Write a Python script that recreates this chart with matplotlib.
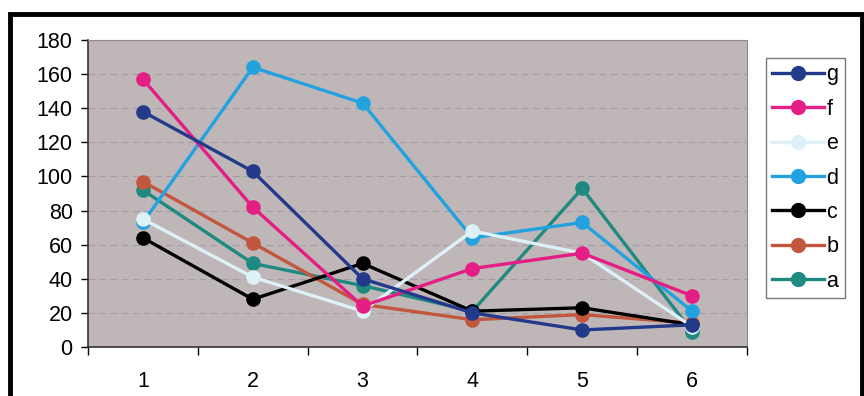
import matplotlib.pyplot as plt
from matplotlib.patches import Rectangle

plt.rcParams['font.family'] = ['Liberation Sans', 'DejaVu Sans']

cats = [1, 2, 3, 4, 5, 6]
names = ['a', 'b', 'c', 'd', 'e', 'f', 'g']
a = [92, 49, 36, 21, 93, 9]
b = [97, 61, 25, 16, 19, 14]
c = [64, 28, 49, 21, 23, 13]
d = [73, 164, 143, 64, 73, 21]
e = [75, 41, 21, 68, 55, 12]
f = [157, 82, 24, 46, 55, 30]
g = [138, 103, 40, 20, 10, 13]
series = [a, b, c, d, e, f, g]
colors = ['#1E8A80', '#C2573E', '#000000', '#23A2E0', '#DDF1F6', '#E41E84', '#233A8A']

fig = plt.figure(figsize=(8.64, 3.96), dpi=100)
ax = fig.add_axes([88/864, 1-347/396, (747-88)/864, (347-40)/396])
ax.set_facecolor('#BFB6B8')

for vals, col, nm in zip(series, colors, names):
    ax.plot(cats, vals, color=col, lw=2.4, marker='o', ms=9.5, label=nm, zorder=3)

ax.set_xlim(0.5, 6.5)
ax.set_ylim(0, 180)
ax.set_yticks(range(0, 181, 20))
ax.set_xticks(cats)
ax.set_xticks([0.5 + i for i in range(7)], minor=True)
ax.tick_params(axis='x', which='major', length=0, pad=17, labelsize=15.5)
ax.tick_params(axis='x', which='minor', length=6, width=1, direction='out')
ax.tick_params(axis='y', length=5, width=1, direction='out', pad=6, labelsize=15.5)
ax.grid(axis='y', color='#A29EA6', lw=0.8, ls=(0, (6, 4)), zorder=1)
for s in ['top', 'right']:
    ax.spines[s].set_color('#8C8C8C')
for s in ['left', 'bottom']:
    ax.spines[s].set_color('#333333')
    ax.spines[s].set_linewidth(1.2)

h, l = ax.get_legend_handles_labels()
leg = fig.legend(h[::-1], l[::-1], loc='upper left',
                 bbox_to_anchor=(766/864, 1-58/396), frameon=True,
                 fontsize=15.5, handlelength=2.4, handletextpad=0.1,
                 labelspacing=0.62, borderpad=0.3, borderaxespad=0,
                 fancybox=False, markerscale=1.05)
leg.get_frame().set_edgecolor('#555555')
leg.get_frame().set_linewidth(1)

fig.patches.append(Rectangle((10/864, -0.1), (862-10)/864, 1.1 - 14/396,
                             transform=fig.transFigure, fill=False,
                             edgecolor='black', lw=3.5))

fig.savefig('out.png', dpi=100)
